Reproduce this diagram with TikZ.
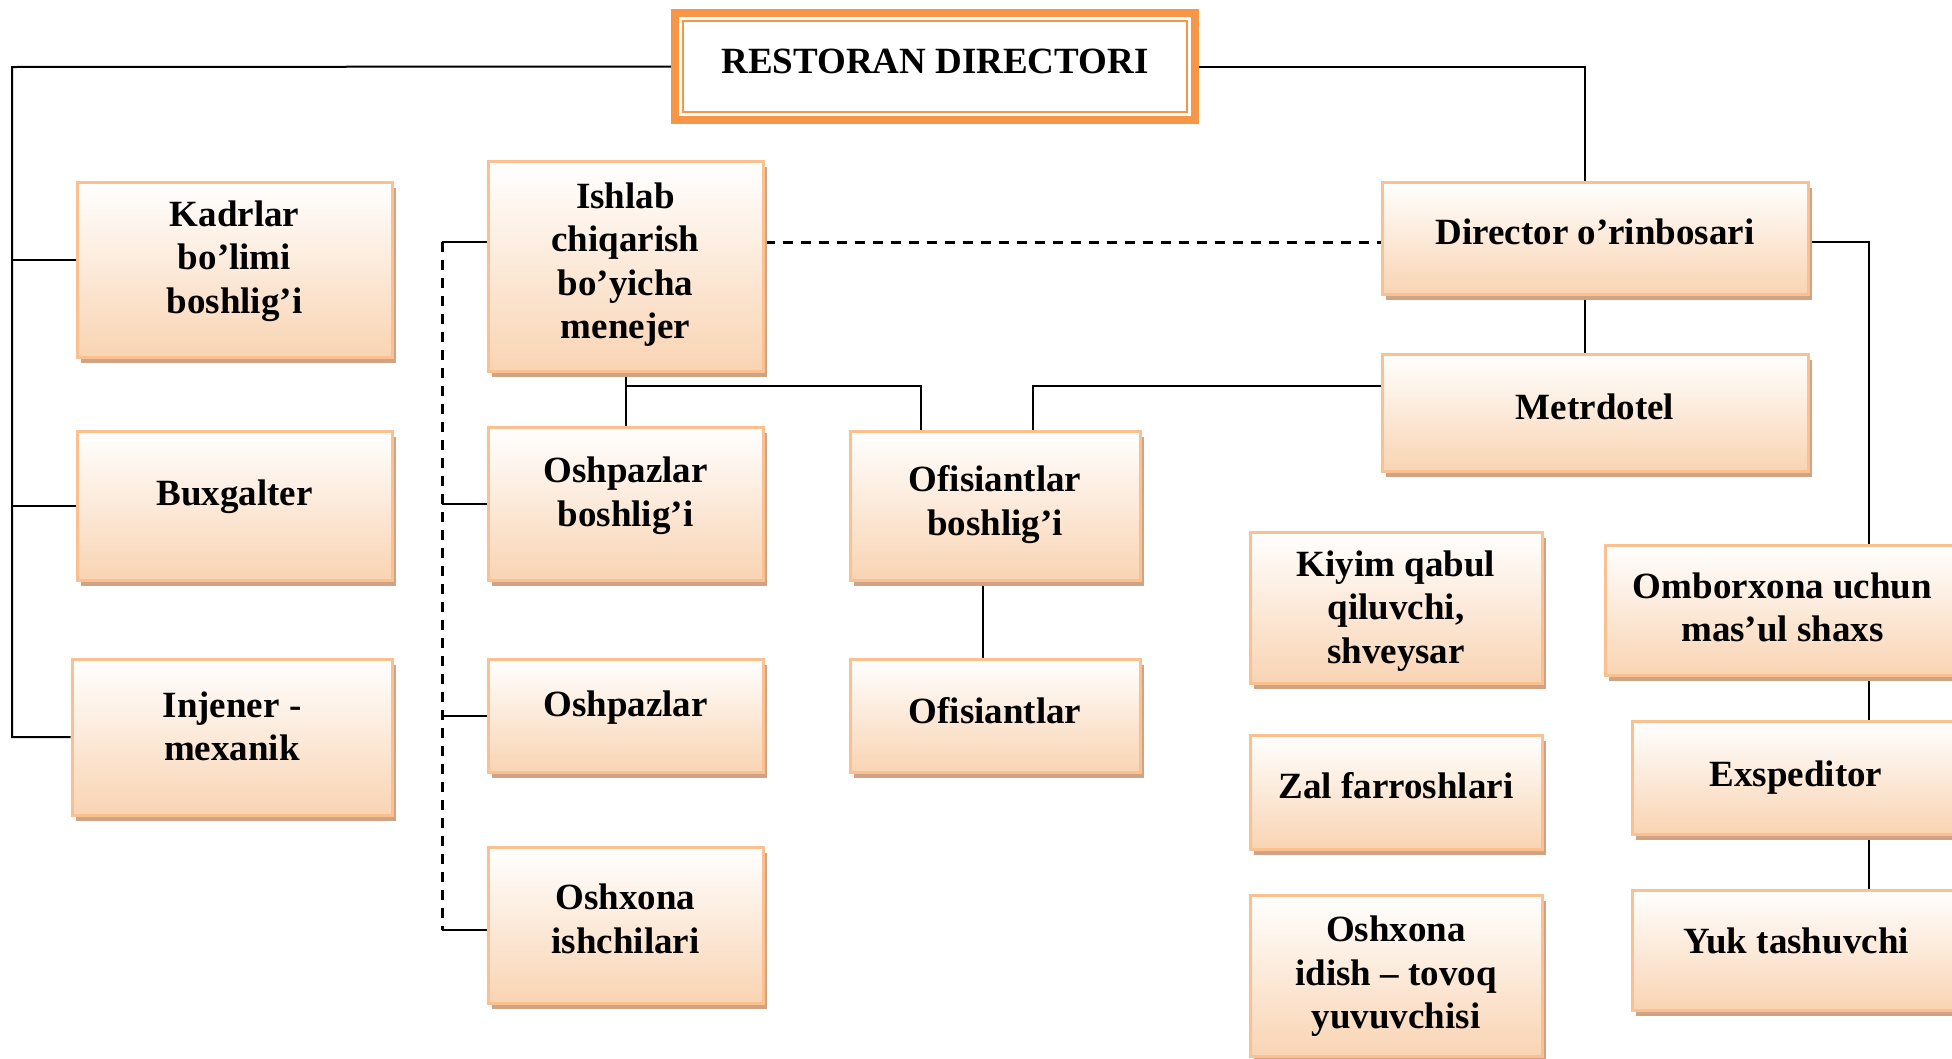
\documentclass[tikz,border=0pt]{standalone}
\usepackage{fontspec}
\setmainfont{Liberation Serif}
\usetikzlibrary{shadows}
\definecolor{boxedge}{HTML}{FAC08F}
\definecolor{boxfill}{HTML}{F9D4B3}
\definecolor{boxshadow}{HTML}{CFA383}
\definecolor{titleorange}{HTML}{F79646}
\pgfdeclarelayer{background}
\pgfsetlayers{background,main}
\tikzset{
  orgbox/.style={rectangle, draw=boxedge, line width=3pt, top color=white, bottom color=boxfill,
    drop shadow={shadow xshift=4pt, shadow yshift=-6pt, fill=boxshadow, opacity=1}, inner sep=0pt},
  lbl/.style={font=\fontsize{37}{43.5}\selectfont\bfseries, align=center, inner sep=0pt},
  conn/.style={line width=2pt, black},
  dconn/.style={line width=3pt, black, dash pattern=on 10pt off 8pt}
}
\newcommand{\orgnode}[7]{%
  \node[orgbox, minimum width={(#4-#2)*1pt}, minimum height={(#5-#3)*1pt}] (#1) at ({(#2+#4)/2},{(#3+#5)/2}) {};
  \node[lbl] (#1-t) at ([yshift=#6pt-3.5pt]#1.center) {#7};}
\begin{document}
\begin{tikzpicture}[x=1pt,y=-1pt]
\useasboundingbox (0,0) rectangle (1952,1058);
\clip (0,0) rectangle (1952,1058);
% title
\node[minimum width=528pt, minimum height=115pt, inner sep=0pt] (title) at (935,66.5) {};
\draw[titleorange, line width=8pt] ([shift={(4,4)}]title.north west) rectangle ([shift={(-4,-4)}]title.south east);
\draw[titleorange, line width=2.5pt] ([shift={(12,12)}]title.north west) rectangle ([shift={(-12,-12)}]title.south east);
\node[lbl] (title-t) at ([yshift=5pt]title.center) {RESTORAN DIRECTORI};
% boxes
\orgnode{kad}{77}{182}{392}{357}{12}{Kadrlar\\bo’limi\\boshlig’i}
\orgnode{bux}{77}{431}{392}{580}{12.5}{Buxgalter}
\orgnode{inj}{72}{659}{392}{815}{14}{Injener -\\mexanik}
\orgnode{ish}{488}{161}{763}{371}{5}{Ishlab\\chiqarish\\bo’yicha\\menejer}
\orgnode{oshb}{488}{427}{763}{580}{11.5}{Oshpazlar\\boshlig’i}
\orgnode{osh}{488}{659}{763}{772}{11}{Oshpazlar}
\orgnode{oshi}{488}{847}{763}{1003}{9.5}{Oshxona\\ishchilari}
\orgnode{ofb}{850}{431}{1140}{580}{4.5}{Ofisiantlar\\boshlig’i}
\orgnode{ofi}{850}{659}{1140}{772}{8.5}{Ofisiantlar}
\orgnode{dir}{1382}{182}{1808}{294}{10}{Director o’rinbosari}
\orgnode{met}{1382}{354}{1808}{471}{9.5}{Metrdotel}
\orgnode{kiy}{1250}{532}{1542}{683}{0}{Kiyim qabul\\qiluvchi,\\shveysar}
\orgnode{zal}{1250}{735}{1542}{849}{10}{Zal farroshlari}
\orgnode{idi}{1250}{895}{1542}{1056}{2.5}{Oshxona\\idish – tovoq\\yuvuvchisi}
\orgnode{omb}{1605}{545}{1960}{675}{6}{Omborxona uchun\\mas’ul shaxs}
\orgnode{exs}{1632}{721}{1960}{834}{3.5}{Exspeditor}
\orgnode{yuk}{1632}{890}{1960}{1010}{12.5}{Yuk tashuvchi}
% connectors
\begin{pgfonlayer}{background}
\coordinate (trunkL) at (12,67);
\coordinate (kadS) at ([yshift=10pt]kad.west);
\draw[conn] (title.west) -- (trunkL) -- (trunkL |- inj.west) -- (inj.west);
\draw[conn] (kadS) -- (kadS -| trunkL);
\draw[conn] (bux.west) -- (bux.west -| trunkL);
\coordinate (dirT) at ([xshift=-10pt]dir.north);
\draw[conn] (title.east) -- (title.east -| dirT) -- (dirT);
\draw[conn] (dirT |- dir.south) -- (dirT |- met.north);
\coordinate (dirR) at ([yshift=-4pt]dir.east);
\coordinate (rtrunk) at (1869,242);
\draw[conn] (dirR) -- (rtrunk) -- (rtrunk |- omb.north);
\draw[conn] (rtrunk |- omb.south) -- (rtrunk |- exs.north);
\draw[conn] (rtrunk |- exs.south) -- (rtrunk |- yuk.north);
\coordinate (ishR) at ([yshift=24pt]ish.east);
\draw[dconn] (ishR) -- (ishR -| dir.west);
\coordinate (dtrunk) at (442,242);
\coordinate (oshiS) at ([yshift=-5pt]oshi.west);
\draw[conn] (ishR -| ish.west) -- (dtrunk);
\draw[dconn] (dtrunk) -- (dtrunk |- oshiS);
\draw[conn] (oshb.west -| dtrunk) -- (oshb.west);
\draw[conn] (osh.west -| dtrunk) -- (osh.west);
\draw[conn] (oshiS -| dtrunk) -- (oshiS);
\draw[conn] (ish.south) -- (oshb.north);
\coordinate (j1) at (625.5,386);
\coordinate (ofbL) at ([xshift=-74pt]ofb.north);
\coordinate (ofbR) at ([xshift=38pt]ofb.north);
\coordinate (metL) at ([yshift=26.5pt]met.west);
\draw[conn] (j1) -- (j1 -| ofbL) -- (ofbL);
\draw[conn] (metL) -- (metL -| ofbR) -- (ofbR);
\draw[conn] ([xshift=-12pt]ofb.south) -- ([xshift=-12pt]ofi.north);
\end{pgfonlayer}
\end{tikzpicture}
\end{document}
